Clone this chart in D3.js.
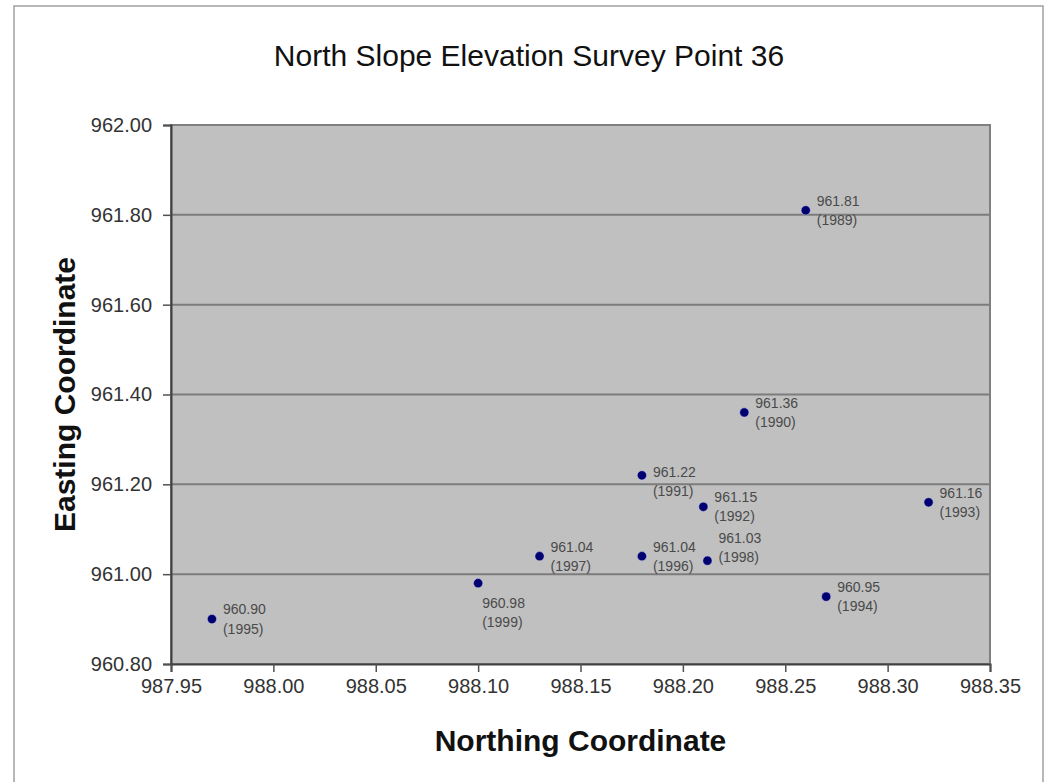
<!DOCTYPE html>
<html>
<head>
<meta charset="utf-8">
<title>North Slope Elevation Survey Point 36</title>
<script src="https://cdn.jsdelivr.net/npm/d3@7"></script>
<style>
  html, body { margin: 0; padding: 0; background: #ffffff; }
  svg { display: block; }
  text { font-family: "Liberation Sans", Arial, sans-serif; }
</style>
</head>
<body>
<svg id="chart" width="1045" height="782"></svg>
<script>
// Survey readings, one per year
const years    = [1989, 1990, 1991, 1992, 1993, 1994, 1995, 1996, 1997, 1998, 1999];
const northing = [988.26, 988.23, 988.18, 988.21, 988.32, 988.27, 987.97, 988.18, 988.13, 988.212, 988.10];
const easting  = [961.81, 961.36, 961.22, 961.15, 961.16, 960.95, 960.90, 961.04, 961.04, 961.03, 960.98];

// Axis ticks
const xTicks = [987.95, 988.00, 988.05, 988.10, 988.15, 988.20, 988.25, 988.30, 988.35];
const yTicks = [960.80, 961.00, 961.20, 961.40, 961.60, 961.80, 962.00];

// Label nudges for crowded points: [dx, dy of the label block centre]
const labelNudge = { 1991: [11, 6], 1998: [11, -13.5], 1999: [4, 29.5] };

const svg = d3.select("#chart");
const W = 1045, H = 782;
const plot = { left: 171, top: 125, right: 990, bottom: 664 };

// Chart area frame
svg.append("rect")
  .attr("x", 14).attr("y", 6)
  .attr("width", 1029).attr("height", 790)
  .attr("fill", "#ffffff")
  .attr("stroke", "#a0a0a0").attr("stroke-width", 1.5);

const x = d3.scaleLinear().domain([xTicks[0], xTicks[xTicks.length - 1]]).range([plot.left, plot.right]);
const y = d3.scaleLinear().domain([yTicks[0], yTicks[yTicks.length - 1]]).range([plot.bottom, plot.top]);
const fmt = d3.format(".2f");

// Plot area
svg.append("rect")
  .attr("x", plot.left).attr("y", plot.top)
  .attr("width", plot.right - plot.left).attr("height", plot.bottom - plot.top)
  .attr("fill", "#c0c0c0")
  .attr("stroke", "#808080").attr("stroke-width", 2);

// Horizontal gridlines
svg.append("g")
  .selectAll("line")
  .data(yTicks.slice(1, -1))
  .join("line")
  .attr("x1", plot.left).attr("x2", plot.right)
  .attr("y1", d => y(d)).attr("y2", d => y(d))
  .attr("stroke", "#7c7c7c").attr("stroke-width", 2);

// Y axis
const yAxis = svg.append("g")
  .attr("transform", `translate(${plot.left},0)`)
  .call(d3.axisLeft(y).tickValues(yTicks).tickFormat(fmt).tickSize(8).tickPadding(11));
yAxis.select(".domain").attr("stroke", "#404040").attr("stroke-width", 2);
yAxis.selectAll(".tick line").attr("stroke", "#505050").attr("stroke-width", 1.5);
yAxis.selectAll(".tick text")
  .attr("font-size", 20).attr("fill", "#333333")
  .attr("font-family", "'Liberation Sans', Arial, sans-serif");

// X axis
const xAxis = svg.append("g")
  .attr("transform", `translate(0,${plot.bottom})`)
  .call(d3.axisBottom(x).tickValues(xTicks).tickFormat(fmt).tickSize(8).tickPadding(7));
xAxis.select(".domain").attr("stroke", "#404040").attr("stroke-width", 2);
xAxis.selectAll(".tick line").attr("stroke", "#505050").attr("stroke-width", 1.5);
xAxis.selectAll(".tick text")
  .attr("font-size", 20).attr("fill", "#333333")
  .attr("font-family", "'Liberation Sans', Arial, sans-serif");

// Titles
svg.append("text")
  .attr("x", 529).attr("y", 66)
  .attr("text-anchor", "middle")
  .attr("font-size", 30).attr("fill", "#111111")
  .text("North Slope Elevation Survey Point 36");

svg.append("text")
  .attr("x", (plot.left + plot.right) / 2).attr("y", 751)
  .attr("text-anchor", "middle")
  .attr("font-size", 30).attr("font-weight", "bold").attr("fill", "#111111")
  .text("Northing Coordinate");

svg.append("text")
  .attr("transform", `translate(75,${(plot.top + plot.bottom) / 2}) rotate(-90)`)
  .attr("text-anchor", "middle")
  .attr("font-size", 30).attr("font-weight", "bold").attr("fill", "#111111")
  .text("Easting Coordinate");

// Points
const points = years.map((yr, i) => ({ year: yr, n: northing[i], e: easting[i] }));

svg.append("g")
  .selectAll("circle")
  .data(points)
  .join("circle")
  .attr("cx", d => x(d.n)).attr("cy", d => y(d.e))
  .attr("r", 4.6)
  .attr("fill", "#000070")
  .attr("stroke", "#c8c8f0").attr("stroke-width", 0.8).attr("stroke-opacity", 0.6);

// Data labels: value and year
const labels = svg.append("g")
  .selectAll("text")
  .data(points)
  .join("text")
  .attr("font-size", 14).attr("fill", "#4a4a4a")
  .attr("transform", d => {
    const [dx, dy] = labelNudge[d.year] || [11, 0];
    return `translate(${x(d.n) + dx},${y(d.e) + dy})`;
  });
labels.append("tspan").attr("x", 0).attr("y", -9.7).attr("dominant-baseline", "central")
  .text(d => fmt(d.e));
labels.append("tspan").attr("x", 0).attr("y", 9.7).attr("dominant-baseline", "central")
  .text(d => `(${d.year})`);
</script>
</body>
</html>
